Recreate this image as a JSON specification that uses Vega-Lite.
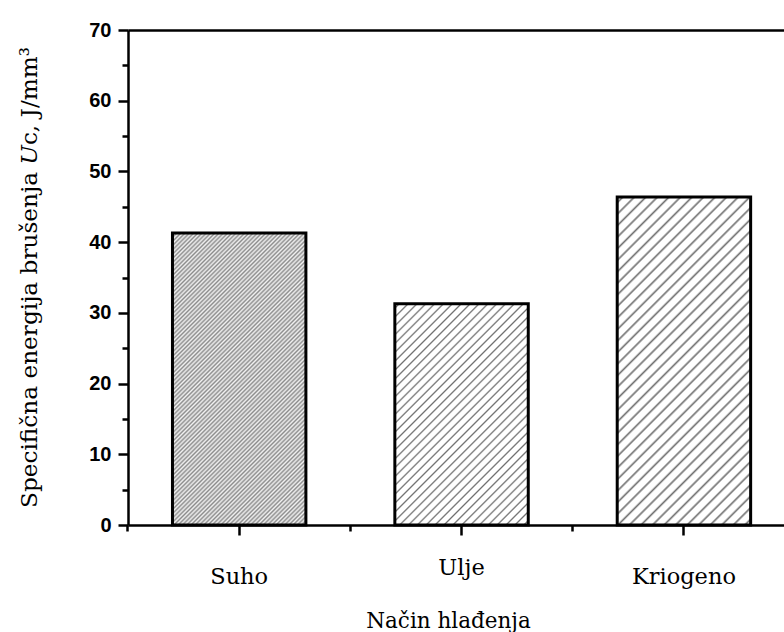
{
  "$schema": "https://vega.github.io/schema/vega-lite/v6.json",
  "autosize": "none",
  "width": 656,
  "height": 495,
  "padding": {"left": 128, "top": 30, "right": 0, "bottom": 107},
  "background": "white",
  "config": {"view": {"stroke": null}},
  "data": {
    "values": [
      {"nacin": "Suho", "Uc": 41.3},
      {"nacin": "Ulje", "Uc": 31.3},
      {"nacin": "Kriogeno", "Uc": 46.4}
    ]
  },
  "resolve": {"axis": {"x": "independent"}},
  "layer": [
    {
      "mark": {"type": "bar", "stroke": "black", "strokeWidth": 3},
      "encoding": {
        "x": {
          "field": "nacin",
          "type": "nominal",
          "sort": ["Suho", "Ulje", "Kriogeno"],
          "scale": {"paddingInner": 0.4, "paddingOuter": 0.175, "align": 0.5714},
          "axis": {
            "orient": "bottom",
            "title": "Način hlađenja",
            "titleFont": "DejaVu Serif",
            "titleFontSize": 21.5,
            "titleFontWeight": "normal",
            "titleColor": "black",
            "titleBaseline": "alphabetic",
            "titleAlign": "center",
            "titleX": 320,
            "titleY": 102,
            "labelAngle": 0,
            "labelFont": "DejaVu Serif",
            "labelFontSize": 22.5,
            "labelColor": "black",
            "labelBaseline": "alphabetic",
            "labelPadding": {"condition": {"test": "datum.label === 'Ulje'", "value": 39}, "value": 48},
            "tickSize": 10,
            "tickWidth": 2.5,
            "tickColor": "black",
            "domainColor": "black",
            "domainWidth": 2.5,
            "grid": false
          }
        },
        "y": {
          "field": "Uc",
          "type": "quantitative",
          "scale": {"domain": [0, 70], "nice": false, "zero": true},
          "axis": {
            "values": [0, 5, 10, 15, 20, 25, 30, 35, 40, 45, 50, 55, 60, 65, 70],
            "labelExpr": "datum.value % 10 === 0 ? datum.label : ''",
            "tickSize": {"condition": {"test": "datum.value % 10 !== 0", "value": 6}, "value": 10},
            "tickWidth": 2.5,
            "tickColor": "black",
            "domainColor": "black",
            "domainWidth": 2.5,
            "grid": false,
            "labelFont": "Liberation Sans, Arial, sans-serif",
            "labelFontWeight": "bold",
            "labelFontSize": 20,
            "labelColor": "black",
            "labelPadding": 7,
            "title": "Specifična energija brušenja 𝑈c, J/mm³",
            "titleFont": "DejaVu Serif",
            "titleFontSize": 23.2,
            "titleFontWeight": "normal",
            "titleColor": "black",
            "titleBaseline": "alphabetic",
            "titleAlign": "center",
            "titleAngle": -90,
            "titleX": -92,
            "titleY": 247
          }
        },
        "fill": {
          "condition": [
            {
              "test": "datum.nacin === 'Suho'",
              "value": {
                "gradient": "linear", "x1": 0, "y1": 0, "x2": 0.55055, "y2": 1.20531,
                "stops": [
                  {"offset": 0, "color": "#8c8c8c"}, {"offset": 0.005, "color": "#f2f2f2"},
                  {"offset": 0.01, "color": "#8c8c8c"}, {"offset": 0.015, "color": "#f2f2f2"},
                  {"offset": 0.02, "color": "#8c8c8c"}, {"offset": 0.025, "color": "#f2f2f2"},
                  {"offset": 0.03, "color": "#8c8c8c"}, {"offset": 0.035, "color": "#f2f2f2"},
                  {"offset": 0.04, "color": "#8c8c8c"}, {"offset": 0.045, "color": "#f2f2f2"},
                  {"offset": 0.05, "color": "#8c8c8c"}, {"offset": 0.055, "color": "#f2f2f2"},
                  {"offset": 0.06, "color": "#8c8c8c"}, {"offset": 0.065, "color": "#f2f2f2"},
                  {"offset": 0.07, "color": "#8c8c8c"}, {"offset": 0.075, "color": "#f2f2f2"},
                  {"offset": 0.08, "color": "#8c8c8c"}, {"offset": 0.085, "color": "#f2f2f2"},
                  {"offset": 0.09, "color": "#8c8c8c"}, {"offset": 0.095, "color": "#f2f2f2"},
                  {"offset": 0.10, "color": "#8c8c8c"}, {"offset": 0.105, "color": "#f2f2f2"},
                  {"offset": 0.11, "color": "#8c8c8c"}, {"offset": 0.115, "color": "#f2f2f2"},
                  {"offset": 0.12, "color": "#8c8c8c"}, {"offset": 0.125, "color": "#f2f2f2"},
                  {"offset": 0.13, "color": "#8c8c8c"}, {"offset": 0.135, "color": "#f2f2f2"},
                  {"offset": 0.14, "color": "#8c8c8c"}, {"offset": 0.145, "color": "#f2f2f2"},
                  {"offset": 0.15, "color": "#8c8c8c"}, {"offset": 0.155, "color": "#f2f2f2"},
                  {"offset": 0.16, "color": "#8c8c8c"}, {"offset": 0.165, "color": "#f2f2f2"},
                  {"offset": 0.17, "color": "#8c8c8c"}, {"offset": 0.175, "color": "#f2f2f2"},
                  {"offset": 0.18, "color": "#8c8c8c"}, {"offset": 0.185, "color": "#f2f2f2"},
                  {"offset": 0.19, "color": "#8c8c8c"}, {"offset": 0.195, "color": "#f2f2f2"},
                  {"offset": 0.20, "color": "#8c8c8c"}, {"offset": 0.205, "color": "#f2f2f2"},
                  {"offset": 0.21, "color": "#8c8c8c"}, {"offset": 0.215, "color": "#f2f2f2"},
                  {"offset": 0.22, "color": "#8c8c8c"}, {"offset": 0.225, "color": "#f2f2f2"},
                  {"offset": 0.23, "color": "#8c8c8c"}, {"offset": 0.235, "color": "#f2f2f2"},
                  {"offset": 0.24, "color": "#8c8c8c"}, {"offset": 0.245, "color": "#f2f2f2"},
                  {"offset": 0.25, "color": "#8c8c8c"}, {"offset": 0.255, "color": "#f2f2f2"},
                  {"offset": 0.26, "color": "#8c8c8c"}, {"offset": 0.265, "color": "#f2f2f2"},
                  {"offset": 0.27, "color": "#8c8c8c"}, {"offset": 0.275, "color": "#f2f2f2"},
                  {"offset": 0.28, "color": "#8c8c8c"}, {"offset": 0.285, "color": "#f2f2f2"},
                  {"offset": 0.29, "color": "#8c8c8c"}, {"offset": 0.295, "color": "#f2f2f2"},
                  {"offset": 0.30, "color": "#8c8c8c"}, {"offset": 0.305, "color": "#f2f2f2"},
                  {"offset": 0.31, "color": "#8c8c8c"}, {"offset": 0.315, "color": "#f2f2f2"},
                  {"offset": 0.32, "color": "#8c8c8c"}, {"offset": 0.325, "color": "#f2f2f2"},
                  {"offset": 0.33, "color": "#8c8c8c"}, {"offset": 0.335, "color": "#f2f2f2"},
                  {"offset": 0.34, "color": "#8c8c8c"}, {"offset": 0.345, "color": "#f2f2f2"},
                  {"offset": 0.35, "color": "#8c8c8c"}, {"offset": 0.355, "color": "#f2f2f2"},
                  {"offset": 0.36, "color": "#8c8c8c"}, {"offset": 0.365, "color": "#f2f2f2"},
                  {"offset": 0.37, "color": "#8c8c8c"}, {"offset": 0.375, "color": "#f2f2f2"},
                  {"offset": 0.38, "color": "#8c8c8c"}, {"offset": 0.385, "color": "#f2f2f2"},
                  {"offset": 0.39, "color": "#8c8c8c"}, {"offset": 0.395, "color": "#f2f2f2"},
                  {"offset": 0.40, "color": "#8c8c8c"}, {"offset": 0.405, "color": "#f2f2f2"},
                  {"offset": 0.41, "color": "#8c8c8c"}, {"offset": 0.415, "color": "#f2f2f2"},
                  {"offset": 0.42, "color": "#8c8c8c"}, {"offset": 0.425, "color": "#f2f2f2"},
                  {"offset": 0.43, "color": "#8c8c8c"}, {"offset": 0.435, "color": "#f2f2f2"},
                  {"offset": 0.44, "color": "#8c8c8c"}, {"offset": 0.445, "color": "#f2f2f2"},
                  {"offset": 0.45, "color": "#8c8c8c"}, {"offset": 0.455, "color": "#f2f2f2"},
                  {"offset": 0.46, "color": "#8c8c8c"}, {"offset": 0.465, "color": "#f2f2f2"},
                  {"offset": 0.47, "color": "#8c8c8c"}, {"offset": 0.475, "color": "#f2f2f2"},
                  {"offset": 0.48, "color": "#8c8c8c"}, {"offset": 0.485, "color": "#f2f2f2"},
                  {"offset": 0.49, "color": "#8c8c8c"}, {"offset": 0.495, "color": "#f2f2f2"},
                  {"offset": 0.50, "color": "#8c8c8c"}, {"offset": 0.505, "color": "#f2f2f2"},
                  {"offset": 0.51, "color": "#8c8c8c"}, {"offset": 0.515, "color": "#f2f2f2"},
                  {"offset": 0.52, "color": "#8c8c8c"}, {"offset": 0.525, "color": "#f2f2f2"},
                  {"offset": 0.53, "color": "#8c8c8c"}, {"offset": 0.535, "color": "#f2f2f2"},
                  {"offset": 0.54, "color": "#8c8c8c"}, {"offset": 0.545, "color": "#f2f2f2"},
                  {"offset": 0.55, "color": "#8c8c8c"}, {"offset": 0.555, "color": "#f2f2f2"},
                  {"offset": 0.56, "color": "#8c8c8c"}, {"offset": 0.565, "color": "#f2f2f2"},
                  {"offset": 0.57, "color": "#8c8c8c"}, {"offset": 0.575, "color": "#f2f2f2"},
                  {"offset": 0.58, "color": "#8c8c8c"}, {"offset": 0.585, "color": "#f2f2f2"},
                  {"offset": 0.59, "color": "#8c8c8c"}, {"offset": 0.595, "color": "#f2f2f2"},
                  {"offset": 0.60, "color": "#8c8c8c"}, {"offset": 0.605, "color": "#f2f2f2"},
                  {"offset": 0.61, "color": "#8c8c8c"}, {"offset": 0.615, "color": "#f2f2f2"},
                  {"offset": 0.62, "color": "#8c8c8c"}, {"offset": 0.625, "color": "#f2f2f2"},
                  {"offset": 0.63, "color": "#8c8c8c"}, {"offset": 0.635, "color": "#f2f2f2"},
                  {"offset": 0.64, "color": "#8c8c8c"}, {"offset": 0.645, "color": "#f2f2f2"},
                  {"offset": 0.65, "color": "#8c8c8c"}, {"offset": 0.655, "color": "#f2f2f2"},
                  {"offset": 0.66, "color": "#8c8c8c"}, {"offset": 0.665, "color": "#f2f2f2"},
                  {"offset": 0.67, "color": "#8c8c8c"}, {"offset": 0.675, "color": "#f2f2f2"},
                  {"offset": 0.68, "color": "#8c8c8c"}, {"offset": 0.685, "color": "#f2f2f2"},
                  {"offset": 0.69, "color": "#8c8c8c"}, {"offset": 0.695, "color": "#f2f2f2"},
                  {"offset": 0.70, "color": "#8c8c8c"}, {"offset": 0.705, "color": "#f2f2f2"},
                  {"offset": 0.71, "color": "#8c8c8c"}, {"offset": 0.715, "color": "#f2f2f2"},
                  {"offset": 0.72, "color": "#8c8c8c"}, {"offset": 0.725, "color": "#f2f2f2"},
                  {"offset": 0.73, "color": "#8c8c8c"}, {"offset": 0.735, "color": "#f2f2f2"},
                  {"offset": 0.74, "color": "#8c8c8c"}, {"offset": 0.745, "color": "#f2f2f2"},
                  {"offset": 0.75, "color": "#8c8c8c"}, {"offset": 0.755, "color": "#f2f2f2"},
                  {"offset": 0.76, "color": "#8c8c8c"}, {"offset": 0.765, "color": "#f2f2f2"},
                  {"offset": 0.77, "color": "#8c8c8c"}, {"offset": 0.775, "color": "#f2f2f2"},
                  {"offset": 0.78, "color": "#8c8c8c"}, {"offset": 0.785, "color": "#f2f2f2"},
                  {"offset": 0.79, "color": "#8c8c8c"}, {"offset": 0.795, "color": "#f2f2f2"},
                  {"offset": 0.80, "color": "#8c8c8c"}, {"offset": 0.805, "color": "#f2f2f2"},
                  {"offset": 0.81, "color": "#8c8c8c"}, {"offset": 0.815, "color": "#f2f2f2"},
                  {"offset": 0.82, "color": "#8c8c8c"}, {"offset": 0.825, "color": "#f2f2f2"},
                  {"offset": 0.83, "color": "#8c8c8c"}, {"offset": 0.835, "color": "#f2f2f2"},
                  {"offset": 0.84, "color": "#8c8c8c"}, {"offset": 0.845, "color": "#f2f2f2"},
                  {"offset": 0.85, "color": "#8c8c8c"}, {"offset": 0.855, "color": "#f2f2f2"},
                  {"offset": 0.86, "color": "#8c8c8c"}, {"offset": 0.865, "color": "#f2f2f2"},
                  {"offset": 0.87, "color": "#8c8c8c"}, {"offset": 0.875, "color": "#f2f2f2"},
                  {"offset": 0.88, "color": "#8c8c8c"}, {"offset": 0.885, "color": "#f2f2f2"},
                  {"offset": 0.89, "color": "#8c8c8c"}, {"offset": 0.895, "color": "#f2f2f2"},
                  {"offset": 0.90, "color": "#8c8c8c"}, {"offset": 0.905, "color": "#f2f2f2"},
                  {"offset": 0.91, "color": "#8c8c8c"}, {"offset": 0.915, "color": "#f2f2f2"},
                  {"offset": 0.92, "color": "#8c8c8c"}, {"offset": 0.925, "color": "#f2f2f2"},
                  {"offset": 0.93, "color": "#8c8c8c"}, {"offset": 0.935, "color": "#f2f2f2"},
                  {"offset": 0.94, "color": "#8c8c8c"}, {"offset": 0.945, "color": "#f2f2f2"},
                  {"offset": 0.95, "color": "#8c8c8c"}, {"offset": 0.955, "color": "#f2f2f2"},
                  {"offset": 0.96, "color": "#8c8c8c"}, {"offset": 0.965, "color": "#f2f2f2"},
                  {"offset": 0.97, "color": "#8c8c8c"}, {"offset": 0.975, "color": "#f2f2f2"},
                  {"offset": 0.98, "color": "#8c8c8c"}, {"offset": 0.985, "color": "#f2f2f2"},
                  {"offset": 0.99, "color": "#8c8c8c"}, {"offset": 0.995, "color": "#f2f2f2"},
                  {"offset": 1, "color": "#8c8c8c"}
                ]
              }
            },
            {
              "test": "datum.nacin === 'Ulje'",
              "value": {
                "gradient": "linear", "x1": 0, "y1": 0, "x2": 0.70857, "y2": 1.17565,
                "stops": [
                  {"offset": 0.0075, "color": "#ffffff"}, {"offset": 0.0125, "color": "#707070"}, {"offset": 0.0175, "color": "#ffffff"},
                  {"offset": 0.0325, "color": "#ffffff"}, {"offset": 0.0375, "color": "#707070"}, {"offset": 0.0425, "color": "#ffffff"},
                  {"offset": 0.0575, "color": "#ffffff"}, {"offset": 0.0625, "color": "#707070"}, {"offset": 0.0675, "color": "#ffffff"},
                  {"offset": 0.0825, "color": "#ffffff"}, {"offset": 0.0875, "color": "#707070"}, {"offset": 0.0925, "color": "#ffffff"},
                  {"offset": 0.1075, "color": "#ffffff"}, {"offset": 0.1125, "color": "#707070"}, {"offset": 0.1175, "color": "#ffffff"},
                  {"offset": 0.1325, "color": "#ffffff"}, {"offset": 0.1375, "color": "#707070"}, {"offset": 0.1425, "color": "#ffffff"},
                  {"offset": 0.1575, "color": "#ffffff"}, {"offset": 0.1625, "color": "#707070"}, {"offset": 0.1675, "color": "#ffffff"},
                  {"offset": 0.1825, "color": "#ffffff"}, {"offset": 0.1875, "color": "#707070"}, {"offset": 0.1925, "color": "#ffffff"},
                  {"offset": 0.2075, "color": "#ffffff"}, {"offset": 0.2125, "color": "#707070"}, {"offset": 0.2175, "color": "#ffffff"},
                  {"offset": 0.2325, "color": "#ffffff"}, {"offset": 0.2375, "color": "#707070"}, {"offset": 0.2425, "color": "#ffffff"},
                  {"offset": 0.2575, "color": "#ffffff"}, {"offset": 0.2625, "color": "#707070"}, {"offset": 0.2675, "color": "#ffffff"},
                  {"offset": 0.2825, "color": "#ffffff"}, {"offset": 0.2875, "color": "#707070"}, {"offset": 0.2925, "color": "#ffffff"},
                  {"offset": 0.3075, "color": "#ffffff"}, {"offset": 0.3125, "color": "#707070"}, {"offset": 0.3175, "color": "#ffffff"},
                  {"offset": 0.3325, "color": "#ffffff"}, {"offset": 0.3375, "color": "#707070"}, {"offset": 0.3425, "color": "#ffffff"},
                  {"offset": 0.3575, "color": "#ffffff"}, {"offset": 0.3625, "color": "#707070"}, {"offset": 0.3675, "color": "#ffffff"},
                  {"offset": 0.3825, "color": "#ffffff"}, {"offset": 0.3875, "color": "#707070"}, {"offset": 0.3925, "color": "#ffffff"},
                  {"offset": 0.4075, "color": "#ffffff"}, {"offset": 0.4125, "color": "#707070"}, {"offset": 0.4175, "color": "#ffffff"},
                  {"offset": 0.4325, "color": "#ffffff"}, {"offset": 0.4375, "color": "#707070"}, {"offset": 0.4425, "color": "#ffffff"},
                  {"offset": 0.4575, "color": "#ffffff"}, {"offset": 0.4625, "color": "#707070"}, {"offset": 0.4675, "color": "#ffffff"},
                  {"offset": 0.4825, "color": "#ffffff"}, {"offset": 0.4875, "color": "#707070"}, {"offset": 0.4925, "color": "#ffffff"},
                  {"offset": 0.5075, "color": "#ffffff"}, {"offset": 0.5125, "color": "#707070"}, {"offset": 0.5175, "color": "#ffffff"},
                  {"offset": 0.5325, "color": "#ffffff"}, {"offset": 0.5375, "color": "#707070"}, {"offset": 0.5425, "color": "#ffffff"},
                  {"offset": 0.5575, "color": "#ffffff"}, {"offset": 0.5625, "color": "#707070"}, {"offset": 0.5675, "color": "#ffffff"},
                  {"offset": 0.5825, "color": "#ffffff"}, {"offset": 0.5875, "color": "#707070"}, {"offset": 0.5925, "color": "#ffffff"},
                  {"offset": 0.6075, "color": "#ffffff"}, {"offset": 0.6125, "color": "#707070"}, {"offset": 0.6175, "color": "#ffffff"},
                  {"offset": 0.6325, "color": "#ffffff"}, {"offset": 0.6375, "color": "#707070"}, {"offset": 0.6425, "color": "#ffffff"},
                  {"offset": 0.6575, "color": "#ffffff"}, {"offset": 0.6625, "color": "#707070"}, {"offset": 0.6675, "color": "#ffffff"},
                  {"offset": 0.6825, "color": "#ffffff"}, {"offset": 0.6875, "color": "#707070"}, {"offset": 0.6925, "color": "#ffffff"},
                  {"offset": 0.7075, "color": "#ffffff"}, {"offset": 0.7125, "color": "#707070"}, {"offset": 0.7175, "color": "#ffffff"},
                  {"offset": 0.7325, "color": "#ffffff"}, {"offset": 0.7375, "color": "#707070"}, {"offset": 0.7425, "color": "#ffffff"},
                  {"offset": 0.7575, "color": "#ffffff"}, {"offset": 0.7625, "color": "#707070"}, {"offset": 0.7675, "color": "#ffffff"},
                  {"offset": 0.7825, "color": "#ffffff"}, {"offset": 0.7875, "color": "#707070"}, {"offset": 0.7925, "color": "#ffffff"},
                  {"offset": 0.8075, "color": "#ffffff"}, {"offset": 0.8125, "color": "#707070"}, {"offset": 0.8175, "color": "#ffffff"},
                  {"offset": 0.8325, "color": "#ffffff"}, {"offset": 0.8375, "color": "#707070"}, {"offset": 0.8425, "color": "#ffffff"},
                  {"offset": 0.8575, "color": "#ffffff"}, {"offset": 0.8625, "color": "#707070"}, {"offset": 0.8675, "color": "#ffffff"},
                  {"offset": 0.8825, "color": "#ffffff"}, {"offset": 0.8875, "color": "#707070"}, {"offset": 0.8925, "color": "#ffffff"},
                  {"offset": 0.9075, "color": "#ffffff"}, {"offset": 0.9125, "color": "#707070"}, {"offset": 0.9175, "color": "#ffffff"},
                  {"offset": 0.9325, "color": "#ffffff"}, {"offset": 0.9375, "color": "#707070"}, {"offset": 0.9425, "color": "#ffffff"},
                  {"offset": 0.9575, "color": "#ffffff"}, {"offset": 0.9625, "color": "#707070"}, {"offset": 0.9675, "color": "#ffffff"},
                  {"offset": 0.9825, "color": "#ffffff"}, {"offset": 0.9875, "color": "#707070"}, {"offset": 0.9925, "color": "#ffffff"}
                ]
              }
            }
          ],
          "value": {
            "gradient": "linear", "x1": 0, "y1": 0, "x2": 0.49076, "y2": 1.20707,
            "stops": [
              {"offset": 0.0075, "color": "#ffffff"}, {"offset": 0.0125, "color": "#707070"}, {"offset": 0.0175, "color": "#ffffff"},
              {"offset": 0.0325, "color": "#ffffff"}, {"offset": 0.0375, "color": "#707070"}, {"offset": 0.0425, "color": "#ffffff"},
              {"offset": 0.0575, "color": "#ffffff"}, {"offset": 0.0625, "color": "#707070"}, {"offset": 0.0675, "color": "#ffffff"},
              {"offset": 0.0825, "color": "#ffffff"}, {"offset": 0.0875, "color": "#707070"}, {"offset": 0.0925, "color": "#ffffff"},
              {"offset": 0.1075, "color": "#ffffff"}, {"offset": 0.1125, "color": "#707070"}, {"offset": 0.1175, "color": "#ffffff"},
              {"offset": 0.1325, "color": "#ffffff"}, {"offset": 0.1375, "color": "#707070"}, {"offset": 0.1425, "color": "#ffffff"},
              {"offset": 0.1575, "color": "#ffffff"}, {"offset": 0.1625, "color": "#707070"}, {"offset": 0.1675, "color": "#ffffff"},
              {"offset": 0.1825, "color": "#ffffff"}, {"offset": 0.1875, "color": "#707070"}, {"offset": 0.1925, "color": "#ffffff"},
              {"offset": 0.2075, "color": "#ffffff"}, {"offset": 0.2125, "color": "#707070"}, {"offset": 0.2175, "color": "#ffffff"},
              {"offset": 0.2325, "color": "#ffffff"}, {"offset": 0.2375, "color": "#707070"}, {"offset": 0.2425, "color": "#ffffff"},
              {"offset": 0.2575, "color": "#ffffff"}, {"offset": 0.2625, "color": "#707070"}, {"offset": 0.2675, "color": "#ffffff"},
              {"offset": 0.2825, "color": "#ffffff"}, {"offset": 0.2875, "color": "#707070"}, {"offset": 0.2925, "color": "#ffffff"},
              {"offset": 0.3075, "color": "#ffffff"}, {"offset": 0.3125, "color": "#707070"}, {"offset": 0.3175, "color": "#ffffff"},
              {"offset": 0.3325, "color": "#ffffff"}, {"offset": 0.3375, "color": "#707070"}, {"offset": 0.3425, "color": "#ffffff"},
              {"offset": 0.3575, "color": "#ffffff"}, {"offset": 0.3625, "color": "#707070"}, {"offset": 0.3675, "color": "#ffffff"},
              {"offset": 0.3825, "color": "#ffffff"}, {"offset": 0.3875, "color": "#707070"}, {"offset": 0.3925, "color": "#ffffff"},
              {"offset": 0.4075, "color": "#ffffff"}, {"offset": 0.4125, "color": "#707070"}, {"offset": 0.4175, "color": "#ffffff"},
              {"offset": 0.4325, "color": "#ffffff"}, {"offset": 0.4375, "color": "#707070"}, {"offset": 0.4425, "color": "#ffffff"},
              {"offset": 0.4575, "color": "#ffffff"}, {"offset": 0.4625, "color": "#707070"}, {"offset": 0.4675, "color": "#ffffff"},
              {"offset": 0.4825, "color": "#ffffff"}, {"offset": 0.4875, "color": "#707070"}, {"offset": 0.4925, "color": "#ffffff"},
              {"offset": 0.5075, "color": "#ffffff"}, {"offset": 0.5125, "color": "#707070"}, {"offset": 0.5175, "color": "#ffffff"},
              {"offset": 0.5325, "color": "#ffffff"}, {"offset": 0.5375, "color": "#707070"}, {"offset": 0.5425, "color": "#ffffff"},
              {"offset": 0.5575, "color": "#ffffff"}, {"offset": 0.5625, "color": "#707070"}, {"offset": 0.5675, "color": "#ffffff"},
              {"offset": 0.5825, "color": "#ffffff"}, {"offset": 0.5875, "color": "#707070"}, {"offset": 0.5925, "color": "#ffffff"},
              {"offset": 0.6075, "color": "#ffffff"}, {"offset": 0.6125, "color": "#707070"}, {"offset": 0.6175, "color": "#ffffff"},
              {"offset": 0.6325, "color": "#ffffff"}, {"offset": 0.6375, "color": "#707070"}, {"offset": 0.6425, "color": "#ffffff"},
              {"offset": 0.6575, "color": "#ffffff"}, {"offset": 0.6625, "color": "#707070"}, {"offset": 0.6675, "color": "#ffffff"},
              {"offset": 0.6825, "color": "#ffffff"}, {"offset": 0.6875, "color": "#707070"}, {"offset": 0.6925, "color": "#ffffff"},
              {"offset": 0.7075, "color": "#ffffff"}, {"offset": 0.7125, "color": "#707070"}, {"offset": 0.7175, "color": "#ffffff"},
              {"offset": 0.7325, "color": "#ffffff"}, {"offset": 0.7375, "color": "#707070"}, {"offset": 0.7425, "color": "#ffffff"},
              {"offset": 0.7575, "color": "#ffffff"}, {"offset": 0.7625, "color": "#707070"}, {"offset": 0.7675, "color": "#ffffff"},
              {"offset": 0.7825, "color": "#ffffff"}, {"offset": 0.7875, "color": "#707070"}, {"offset": 0.7925, "color": "#ffffff"},
              {"offset": 0.8075, "color": "#ffffff"}, {"offset": 0.8125, "color": "#707070"}, {"offset": 0.8175, "color": "#ffffff"},
              {"offset": 0.8325, "color": "#ffffff"}, {"offset": 0.8375, "color": "#707070"}, {"offset": 0.8425, "color": "#ffffff"},
              {"offset": 0.8575, "color": "#ffffff"}, {"offset": 0.8625, "color": "#707070"}, {"offset": 0.8675, "color": "#ffffff"},
              {"offset": 0.8825, "color": "#ffffff"}, {"offset": 0.8875, "color": "#707070"}, {"offset": 0.8925, "color": "#ffffff"},
              {"offset": 0.9075, "color": "#ffffff"}, {"offset": 0.9125, "color": "#707070"}, {"offset": 0.9175, "color": "#ffffff"},
              {"offset": 0.9325, "color": "#ffffff"}, {"offset": 0.9375, "color": "#707070"}, {"offset": 0.9425, "color": "#ffffff"},
              {"offset": 0.9575, "color": "#ffffff"}, {"offset": 0.9625, "color": "#707070"}, {"offset": 0.9675, "color": "#ffffff"},
              {"offset": 0.9825, "color": "#ffffff"}, {"offset": 0.9875, "color": "#707070"}, {"offset": 0.9925, "color": "#ffffff"}
            ]
          }
        }
      }
    },
    {
      "mark": {"type": "bar", "opacity": 0},
      "encoding": {
        "x": {
          "field": "nacin",
          "type": "nominal",
          "sort": ["Suho", "Ulje", "Kriogeno"],
          "axis": {
            "orient": "bottom",
            "title": null,
            "labels": false,
            "domain": false,
            "ticks": true,
            "tickSize": 6,
            "tickWidth": 2.5,
            "tickColor": "black",
            "bandPosition": -0.33333,
            "grid": false
          }
        }
      }
    },
    {
      "mark": {"type": "bar", "opacity": 0},
      "encoding": {
        "x": {
          "field": "nacin",
          "type": "nominal",
          "sort": ["Suho", "Ulje", "Kriogeno"],
          "axis": {
            "orient": "top",
            "title": null,
            "labels": false,
            "ticks": false,
            "domain": true,
            "domainColor": "black",
            "domainWidth": 2.5,
            "grid": false
          }
        }
      }
    }
  ]
}
